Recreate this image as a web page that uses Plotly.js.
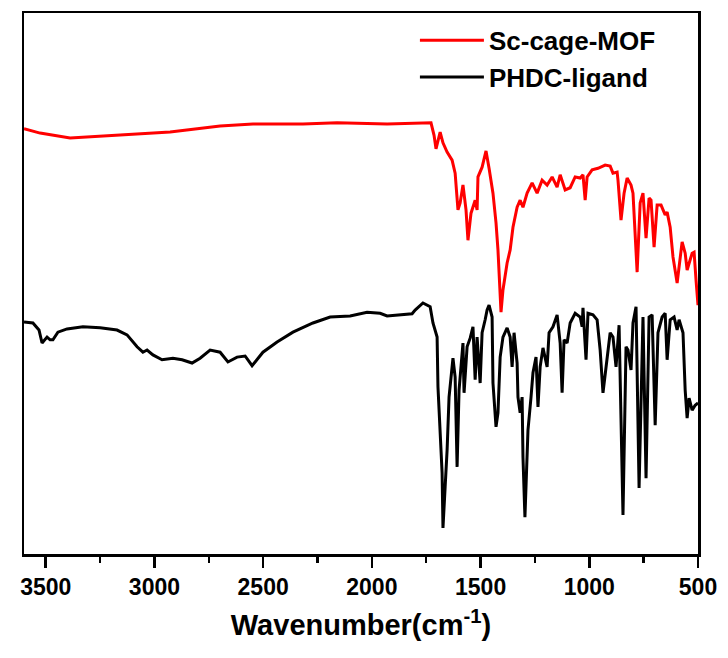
<!DOCTYPE html>
<html>
<head>
<meta charset="utf-8">
<script src="https://cdn.plot.ly/plotly-3.0.1.min.js"></script>
<style>html,body{margin:0;padding:0;background:#fff;}#chart{width:728px;height:658px;}</style>
</head>
<body>
<div id="chart"></div>
<script>
// Sc-cage-MOF spectrum (wavenumber cm-1, relative transmittance a.u.)
const mofWavenumber = [3600,3526,3388,3158,2928,2698,2547,2317,2160,1930,1728,1714,1705,1686,1673,1654,1631,1617,1604,1594,1581,1567,1558,1544,1525,1516,1512,1493,1475,1461,1443,1429,1420,1406,1397,1378,1364,1351,1332,1318,1305,1286,1263,1240,1217,1194,1171,1148,1134,1111,1088,1065,1042,1029,1019,1010,987,960,927,904,891,872,868,854,840,826,808,799,780,766,753,739,725,716,702,688,670,651,642,628,615,596,573,559,550,527,518,509,500];
const mofT = [78.6,77.8,76.9,77.4,78.0,79.1,79.5,79.5,79.7,79.5,79.7,77.4,74.9,78.0,76.0,74.3,72.8,70.4,63.6,64.9,68.2,63.6,58.0,63.0,65.4,63.6,69.7,71.5,74.5,71.3,66.7,61.2,56.2,44.7,48.8,53.8,56.2,60.4,64.1,65.4,64.1,66.7,68.6,66.7,69.1,68.2,69.7,67.8,70.1,67.3,67.7,69.7,69.5,70.1,65.4,69.7,71.0,71.3,71.9,71.7,70.4,70.6,69.1,61.7,66.7,69.5,68.2,66.7,52.1,64.9,66.7,58.4,65.8,65.4,56.7,64.5,64.5,62.7,63.2,60.4,54.9,50.1,57.7,55.6,52.5,55.6,55.8,50.6,46.0];

// PHDC-ligand spectrum
const ligWavenumber = [3600,3559,3531,3517,3494,3480,3467,3444,3402,3329,3250,3172,3126,3080,3053,3034,3007,2965,2915,2873,2827,2790,2744,2698,2662,2620,2583,2551,2501,2436,2363,2271,2192,2100,2022,1962,1930,1870,1815,1801,1765,1732,1719,1700,1696,1677,1673,1663,1654,1645,1631,1627,1617,1608,1599,1585,1581,1576,1562,1548,1535,1525,1516,1502,1493,1479,1470,1461,1447,1443,1429,1420,1410,1397,1378,1364,1355,1346,1332,1328,1318,1309,1305,1296,1286,1282,1268,1259,1245,1236,1226,1213,1194,1185,1167,1148,1134,1125,1116,1102,1088,1065,1042,1033,1029,1015,1006,983,964,950,937,918,904,891,877,863,845,831,822,808,799,785,771,753,739,725,711,697,684,665,651,642,628,610,596,587,569,559,550,541,527,513,500];
const ligT = [42.9,42.7,41.4,39.0,40.1,39.6,39.6,41.0,41.6,42.0,41.8,41.4,40.5,38.3,37.3,37.7,36.8,35.9,36.2,35.9,35.3,36.2,37.7,37.3,35.5,36.4,36.6,34.8,37.3,39.2,41.0,42.7,43.8,44.0,44.7,44.5,44.0,44.2,44.4,45.1,46.4,45.7,42.7,40.1,30.9,15.0,4.8,12.4,19.2,29.0,34.4,36.2,32.7,16.1,30.3,38.6,39.0,29.8,38.3,39.9,42.0,32.2,40.1,31.6,40.9,43.3,45.1,46.0,43.8,31.6,23.5,26.1,36.4,40.1,41.8,40.1,34.6,40.9,35.3,29.0,26.1,29.0,17.9,6.8,17.9,22.9,29.0,33.5,36.4,27.2,34.6,38.1,34.6,40.9,42.0,44.2,39.0,29.8,39.6,39.0,42.7,44.5,43.8,42.0,45.5,35.9,44.5,44.2,43.3,37.7,29.8,35.9,40.9,40.1,34.6,42.3,7.2,38.3,37.7,34.0,42.7,45.7,12.2,43.8,14.0,43.8,44.2,23.8,40.9,43.8,44.5,35.9,43.3,43.8,41.4,43.3,40.9,30.3,25.1,28.8,26.6,27.5,27.9];

const seriesNames = ['Sc-cage-MOF', 'PHDC-ligand'];
const tickValues = [3500, 3000, 2500, 2000, 1500, 1000, 500];
const tickLabels = ['3500', '3000', '2500', '2000', '1500', '1000', '500'];
const minorTickValues = [3250, 2750, 2250, 1750, 1250, 750];

const FONT = 'Liberation Sans, Arial, Helvetica, sans-serif';

const traces = [
  {x: mofWavenumber, y: mofT, name: seriesNames[0], type: 'scatter', mode: 'lines',
   line: {color: '#ff0000', width: 3}},
  {x: ligWavenumber, y: ligT, name: seriesNames[1], type: 'scatter', mode: 'lines',
   line: {color: '#000000', width: 3}}
];

const layout = {
  width: 728, height: 658,
  margin: {l: 24, r: 30, t: 13, b: 104},
  paper_bgcolor: '#ffffff', plot_bgcolor: '#ffffff',
  font: {family: FONT, color: '#000', weight: 'bold'},
  showlegend: true,
  legend: {x: 0.58, y: 0.993, xanchor: 'left', yanchor: 'top', bgcolor: 'rgba(0,0,0,0)',
           itemwidth: 64,
           font: {family: FONT, size: 26, color: '#000', weight: 'bold'}, tracegroupgap: 0},
  xaxis: {
    range: [3600, 500], tickvals: tickValues, ticktext: tickLabels,
    ticks: 'outside', ticklen: 11, tickwidth: 2.5, tickcolor: '#000',
    showline: true, linewidth: 2.5, linecolor: '#000', mirror: true,
    showgrid: false, zeroline: false,
    tickfont: {family: FONT, size: 23, color: '#000', weight: 'bold'},
    minor: {tickvals: minorTickValues, ticks: 'outside', ticklen: 6, tickwidth: 2.5, tickcolor: '#000', showgrid: false},
    title: {text: 'Wavenumber(cm<sup>-1</sup>)', font: {family: FONT, size: 29, color: '#000', weight: 'bold'}, standoff: 16}
  },
  yaxis: {
    range: [0, 100], showticklabels: false, ticks: '',
    showline: true, linewidth: 2.5, linecolor: '#000', mirror: true,
    showgrid: false, zeroline: false
  }
};

Plotly.newPlot('chart', traces, layout, {displayModeBar: false, staticPlot: true});
</script>
</body>
</html>
